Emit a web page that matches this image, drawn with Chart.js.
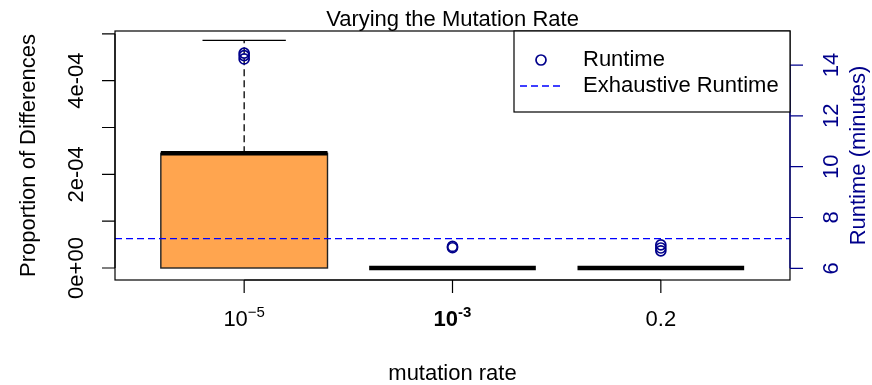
<!DOCTYPE html>
<html><head><meta charset="utf-8">
<script src="https://cdn.jsdelivr.net/npm/chart.js@4/dist/chart.umd.min.js"></script>
<style>html,body{margin:0;padding:0;background:#fff}#wrap{width:872px;height:385px;position:relative}</style>
</head><body><div id="wrap"><canvas id="c"></canvas></div>
<script>
// ---- data ----
const categories = ['1e-5', '1e-3', '0.2'];
const xPositions = [1, 2, 3];
const xLabelBase = ['10', '10', '0.2'];
const xLabelSup = ['\u22125', '-3', ''];
const xLabelBold = [false, true, false];
const boxQ1 = [0, 0, 0];
const boxMedian = [2.45e-4, 0, 0];
const boxQ3 = [2.45e-4, 0, 0];
const whiskerLow = [0, 0, 0];
const whiskerHigh = [4.86e-4, 0, 0];
const runtimeGroup = [1, 1, 1, 2, 2, 3, 3, 3];
const runtimeMinutes = [14.47, 14.37, 14.24, 6.86, 6.81, 6.92, 6.80, 6.69];
const exhaustiveRuntime = 7.17;
const leftTicks = [0, 1e-4, 2e-4, 3e-4, 4e-4, 5e-4];
const leftTickLabels = ['0e+00', '', '2e-04', '', '4e-04', ''];
const rightTicks = [6, 8, 10, 12, 14];
const rightTickLabels = ['6', '8', '10', '12', '14'];
const seriesNames = ['Runtime', 'Exhaustive Runtime'];
const titleText = 'Varying the Mutation Rate';
const xTitle = 'mutation rate';
const yTitle = 'Proportion of Differences';
const y2Title = 'Runtime (minutes)';
const xMin = 0.38, xMax = 3.62;
const yMin = -0.256e-4, yMax = 5.06e-4;
const y2Min = 5.54, y2Max = 15.34;

const FONT = '"Liberation Sans", Arial, Helvetica, sans-serif';
const DARKBLUE = '#00008B';
const BLUE = '#0000FF';

const rPlot = {
  id: 'rPlot',
  beforeDatasetsDraw(chart) {
    const ctx = chart.ctx, xs = chart.scales.x, ys = chart.scales.y;
    const halfW = 0.4;
    ctx.save();
    for (let i = 0; i < categories.length; i++) {
      const xc = xs.getPixelForValue(xPositions[i]);
      const xl = xs.getPixelForValue(xPositions[i] - halfW);
      const xr = xs.getPixelForValue(xPositions[i] + halfW);
      const yq1 = ys.getPixelForValue(boxQ1[i]);
      const yq3 = ys.getPixelForValue(boxQ3[i]);
      const ymed = ys.getPixelForValue(boxMedian[i]);
      // box
      if (boxQ3[i] > boxQ1[i]) {
        ctx.fillStyle = '#FFA54F';
        ctx.fillRect(xl, yq3, xr - xl, yq1 - yq3);
        ctx.strokeStyle = '#222';
        ctx.lineWidth = 1.4;
        ctx.strokeRect(xl, yq3, xr - xl, yq1 - yq3);
      }
      // whiskers
      const drawWhisker = (from, to) => {
        if (to === from) return;
        const yf = ys.getPixelForValue(from), yt = ys.getPixelForValue(to);
        ctx.strokeStyle = '#000';
        ctx.lineWidth = 1.3;
        ctx.setLineDash([7, 4]);
        ctx.beginPath(); ctx.moveTo(xc, yf); ctx.lineTo(xc, yt); ctx.stroke();
        ctx.setLineDash([]);
        const sl = xs.getPixelForValue(xPositions[i] - halfW / 2);
        const sr = xs.getPixelForValue(xPositions[i] + halfW / 2);
        ctx.beginPath(); ctx.moveTo(sl, yt); ctx.lineTo(sr, yt); ctx.stroke();
      };
      drawWhisker(boxQ3[i], whiskerHigh[i]);
      drawWhisker(boxQ1[i], whiskerLow[i]);
      // median
      ctx.strokeStyle = '#000';
      ctx.lineWidth = 4.5;
      ctx.lineCap = 'butt';
      ctx.beginPath(); ctx.moveTo(xl, ymed); ctx.lineTo(xr, ymed); ctx.stroke();
    }
    ctx.restore();
  },
  afterDraw(chart) {
    const ctx = chart.ctx, ca = chart.chartArea;
    const xs = chart.scales.x, ys = chart.scales.y, y2 = chart.scales.y2;
    ctx.save();
    // frame
    ctx.strokeStyle = '#000';
    ctx.lineWidth = 1.2;
    ctx.strokeRect(ca.left, ca.top, ca.right - ca.left, ca.bottom - ca.top);
    const tick = 13;
    // left axis
    ctx.beginPath();
    ctx.moveTo(ca.left, ys.getPixelForValue(leftTicks[0]));
    ctx.lineTo(ca.left, ys.getPixelForValue(leftTicks[leftTicks.length - 1]));
    leftTicks.forEach(v => { const p = ys.getPixelForValue(v); ctx.moveTo(ca.left, p); ctx.lineTo(ca.left - tick, p); });
    ctx.stroke();
    // bottom axis
    ctx.beginPath();
    ctx.moveTo(xs.getPixelForValue(xPositions[0]), ca.bottom);
    ctx.lineTo(xs.getPixelForValue(xPositions[xPositions.length - 1]), ca.bottom);
    xPositions.forEach(v => { const p = xs.getPixelForValue(v); ctx.moveTo(p, ca.bottom); ctx.lineTo(p, ca.bottom + tick); });
    ctx.stroke();
    // right axis (blue)
    ctx.strokeStyle = DARKBLUE;
    ctx.beginPath();
    ctx.moveTo(ca.right, y2.getPixelForValue(rightTicks[0]));
    ctx.lineTo(ca.right, y2.getPixelForValue(rightTicks[rightTicks.length - 1]));
    rightTicks.forEach(v => { const p = y2.getPixelForValue(v); ctx.moveTo(ca.right, p); ctx.lineTo(ca.right + tick, p); });
    ctx.stroke();

    const rot = (txt, x, y, color) => {
      ctx.save(); ctx.translate(x, y); ctx.rotate(-Math.PI / 2);
      ctx.fillStyle = color; ctx.textAlign = 'center'; ctx.textBaseline = 'alphabetic';
      ctx.fillText(txt, 0, 0); ctx.restore();
    };
    ctx.font = '22px ' + FONT;
    leftTicks.forEach((v, i) => { if (leftTickLabels[i]) rot(leftTickLabels[i], ca.left - 32, ys.getPixelForValue(v), '#000'); });
    rightTicks.forEach((v, i) => rot(rightTickLabels[i], ca.right + 48, y2.getPixelForValue(v), DARKBLUE));
    const midY = (ca.top + ca.bottom) / 2;
    rot(yTitle, ca.left - 80, midY, '#000');
    rot(y2Title, ca.right + 75, midY, DARKBLUE);

    // x tick labels
    const base = ca.bottom + 46;
    xPositions.forEach((v, i) => {
      const px = xs.getPixelForValue(v);
      const w = xLabelBold[i] ? 'bold ' : '';
      ctx.font = w + '22px ' + FONT;
      const bw = ctx.measureText(xLabelBase[i]).width;
      ctx.font = w + '15px ' + FONT;
      const sw = xLabelSup[i] ? ctx.measureText(xLabelSup[i]).width : 0;
      const start = px - (bw + sw) / 2;
      ctx.fillStyle = '#000'; ctx.textAlign = 'left'; ctx.textBaseline = 'alphabetic';
      ctx.font = w + '22px ' + FONT;
      ctx.fillText(xLabelBase[i], start, base);
      if (xLabelSup[i]) { ctx.font = w + '15px ' + FONT; ctx.fillText(xLabelSup[i], start + bw, base - 9); }
    });
    // titles
    ctx.font = '22px ' + FONT;
    ctx.textAlign = 'center'; ctx.fillStyle = '#000';
    ctx.fillText(titleText, (ca.left + ca.right) / 2, ca.top - 5);
    ctx.fillText(xTitle, (ca.left + ca.right) / 2, ca.bottom + 100);

    // legend
    const lx = 514, ly = ca.top, lw = ca.right - lx, lh = 81;
    ctx.fillStyle = '#fff'; ctx.fillRect(lx, ly, lw, lh);
    ctx.strokeStyle = '#000'; ctx.lineWidth = 1.2; ctx.strokeRect(lx, ly, lw, lh);
    ctx.strokeStyle = DARKBLUE; ctx.lineWidth = 1.7;
    ctx.beginPath(); ctx.arc(lx + 27, ly + 29, 5, 0, Math.PI * 2); ctx.stroke();
    ctx.strokeStyle = BLUE; ctx.lineWidth = 1.3; ctx.setLineDash([7, 4]);
    ctx.beginPath(); ctx.moveTo(lx + 6, ly + 55); ctx.lineTo(lx + 49, ly + 55); ctx.stroke();
    ctx.setLineDash([]);
    ctx.fillStyle = '#000'; ctx.textAlign = 'left'; ctx.textBaseline = 'middle';
    ctx.font = '22px ' + FONT;
    ctx.fillText(seriesNames[0], lx + 69, ly + 29);
    ctx.fillText(seriesNames[1], lx + 69, ly + 55);
    ctx.restore();
  }
};

new Chart(document.getElementById('c'), {
  data: {
    datasets: [
      {
        type: 'line', label: seriesNames[1], yAxisID: 'y2',
        data: [{ x: xMin, y: exhaustiveRuntime }, { x: xMax, y: exhaustiveRuntime }],
        borderColor: BLUE, borderWidth: 1.3, borderDash: [7, 4], pointRadius: 0, fill: false
      },
      {
        type: 'scatter', label: seriesNames[0], yAxisID: 'y2',
        data: runtimeGroup.map((g, i) => ({ x: g, y: runtimeMinutes[i] })),
        pointStyle: 'circle', pointRadius: 5, borderColor: DARKBLUE, borderWidth: 1.7,
        backgroundColor: 'rgba(0,0,0,0)'
      }
    ]
  },
  options: {
    responsive: true, maintainAspectRatio: false, animation: false, events: [],
    layout: { padding: { left: 115, right: 82, top: 31, bottom: 105 } },
    plugins: { legend: { display: false }, title: { display: false }, tooltip: { enabled: false } },
    scales: {
      x: { type: 'linear', min: xMin, max: xMax, display: false },
      y: { type: 'linear', min: yMin, max: yMax, display: false },
      y2: { type: 'linear', min: y2Min, max: y2Max, display: false, position: 'right' }
    }
  },
  plugins: [rPlot]
});
</script>
</body></html>
